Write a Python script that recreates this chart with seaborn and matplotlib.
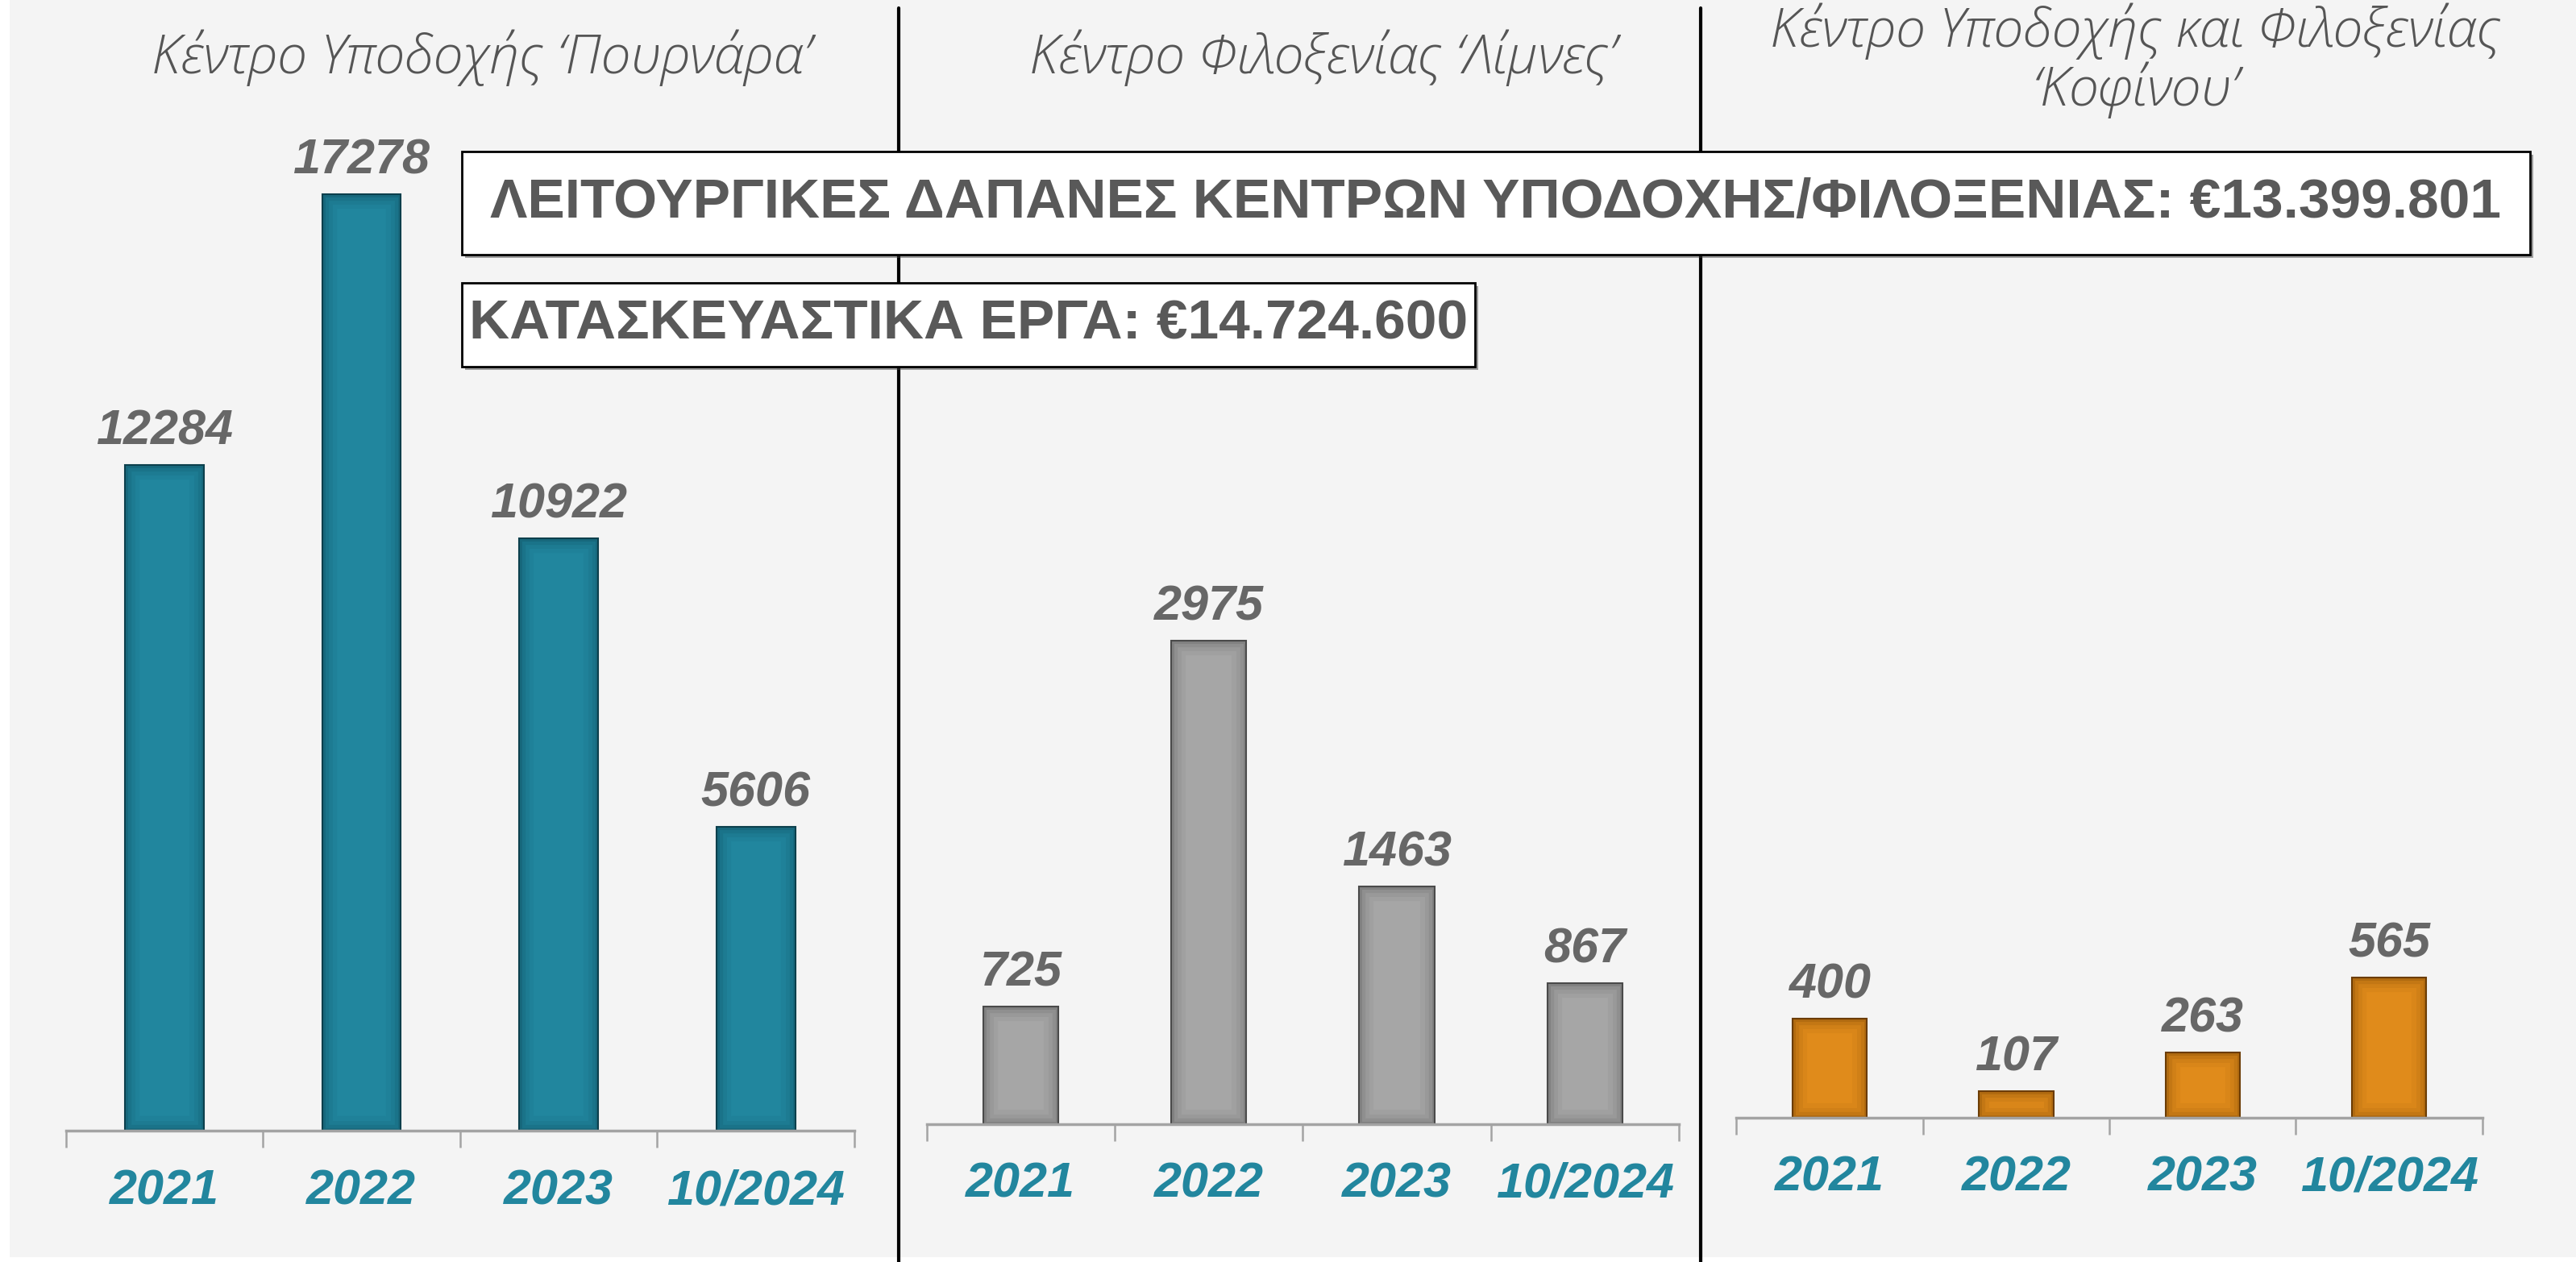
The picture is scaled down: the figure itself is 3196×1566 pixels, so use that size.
import matplotlib
matplotlib.use('Agg')
import matplotlib.pyplot as plt
import seaborn as sns
import pandas as pd
from matplotlib.patches import Rectangle
from matplotlib.lines import Line2D

# data
years = ['2021', '2022', '2023', '10/2024']
pournara = [12284, 17278, 10922, 5606]
limnes = [725, 2975, 1463, 867]
kofinou = [400, 107, 263, 565]

titles = ['Κέντρο Υποδοχής ‘Πουρνάρα’',
          'Κέντρο Φιλοξενίας ‘Λίμνες’',
          'Κέντρο Υποδοχής και Φιλοξενίας\n‘Κοφίνου’']
box_texts = ['ΛΕΙΤΟΥΡΓΙΚΕΣ ΔΑΠΑΝΕΣ ΚΕΝΤΡΩΝ ΥΠΟΔΟΧΗΣ/ΦΙΛΟΞΕΝΙΑΣ: €13.399.801',
             'ΚΑΤΑΣΚΕΥΑΣΤΙΚΑ ΕΡΓΑ: €14.724.600']

bar_colors = ['#21869e', '#a6a6a6', '#e08b1b']
edge_colors = ['#0c3f4c', '#4a4a4a', '#6b3c04']

sns.set_style('white')
plt.rcParams['font.family'] = ['Liberation Sans', 'DejaVu Sans']

W, H = 1568, 768  # layout grid (scaled preview units)
fig = plt.figure(figsize=(31.96, 15.66), dpi=100)
fig.patch.set_facecolor('white')
fig.patches.append(Rectangle((12 / 3196, 6 / 1566), 1, 1, transform=fig.transFigure,
                             facecolor='#f4f4f4', edgecolor='none', zorder=-10))

# (left, right, baseline, ylim top)
panels = [(40, 520, 688, 20855), (564, 1022, 684, 6923), (1057, 1511, 680, 4521)]
series = [pournara, limnes, kofinou]

for i, (x0, x1, base, ymax) in enumerate(panels):
    ax = fig.add_axes([x0 / W, 1 - base / H, (x1 - x0) / W, base / H])
    ax.set_facecolor('none')
    df = pd.DataFrame({'year': years, 'value': series[i]})
    sns.barplot(data=df, x='year', y='value', color=bar_colors[i], saturation=1,
                width=0.4, ax=ax, edgecolor=edge_colors[i], linewidth=1.5)
    # soft inner shadow on bars
    for p in list(ax.patches):
        for lw, a in [(26, 0.06), (18, 0.08), (11, 0.12), (5, 0.2)]:
            r = Rectangle(p.get_xy(), p.get_width(), p.get_height(), facecolor='none',
                          edgecolor=edge_colors[i], lw=lw, alpha=a, zorder=p.get_zorder() + 0.1)
            ax.add_patch(r)
            r.set_clip_path(p)
    ax.bar_label(ax.containers[0], padding=9, fontsize=44, fontweight='bold',
                 fontstyle='italic', color='#676767')
    ax.set_xlim(-0.5, 3.5)
    ax.set_ylim(0, ymax)
    ax.set_xlabel('')
    ax.set_ylabel('')
    ax.set_yticks([])
    for s in ['top', 'left', 'right']:
        ax.spines[s].set_visible(False)
    ax.spines['bottom'].set_color('#a3a3a3')
    ax.spines['bottom'].set_linewidth(2.5)
    ax.set_xticks([-0.5, 0.5, 1.5, 2.5, 3.5], minor=True)
    ax.tick_params(axis='x', which='minor', bottom=True, length=15, width=1.8,
                   color='#a3a3a3', direction='out')
    ax.tick_params(axis='x', which='major', length=0, pad=34)
    for t in ax.get_xticklabels():
        t.set_fontsize(44)
        t.set_fontweight('bold')
        t.set_fontstyle('italic')
        t.set_color('#22869e')

# panel titles
title_pos = [(293, 35), (805, 35), (1300, 37)]
for (tx, ty), t in zip(title_pos, titles):
    fig.text(tx / W, 1 - ty / H, t, ha='center', va='center', fontsize=48,
             family=['Open Sans', 'DejaVu Sans'], fontweight='light', fontstyle='italic',
             color='#555555', linespacing=1.05)

# divider lines
for dx in [547, 1035]:
    fig.add_artist(Line2D([dx / W, dx / W], [0, 1 - 5 / H], transform=fig.transFigure,
                          color='black', lw=3))

# summary boxes
boxes = [(281, 92, 1540, 155), (281, 172, 898, 223)]
for (bx0, by0, bx1, by1), txt in zip(boxes, box_texts):
    fig.patches.append(Rectangle((bx0 / W + 0.0012, 1 - by1 / H - 0.0025), (bx1 - bx0) / W,
                                 (by1 - by0) / H, transform=fig.transFigure,
                                 facecolor='#444444', edgecolor='none', alpha=0.5, zorder=5))
    fig.patches.append(Rectangle((bx0 / W, 1 - by1 / H), (bx1 - bx0) / W, (by1 - by0) / H,
                                 transform=fig.transFigure, facecolor='white',
                                 edgecolor='black', lw=2, zorder=6))
    fig.text((bx0 + bx1) / 2 / W, 1 - (by0 + by1) / 2 / H, txt, ha='center', va='center',
             fontsize=50, fontweight='bold', color='#595959', zorder=7)

fig.savefig('out.png', dpi=100)
